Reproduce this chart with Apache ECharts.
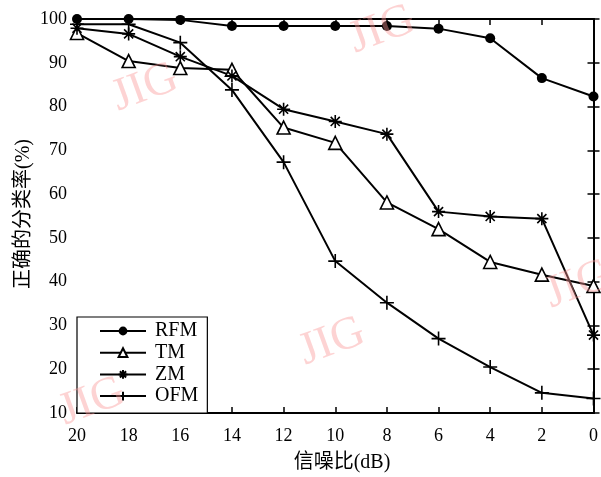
<!DOCTYPE html>
<html>
<head>
<meta charset="utf-8">
<script src="https://cdn.jsdelivr.net/npm/echarts@6/dist/echarts.min.js"></script>
<style>html,body{margin:0;padding:0;background:#fff}#c{width:601px;height:477px}</style>
</head>
<body>
<div id="c"></div>
<script>
const snr = [20, 18, 16, 14, 12, 10, 8, 6, 4, 2, 0];
const RFM = [100, 100, 99.8, 98.4, 98.4, 98.4, 98.4, 97.8, 95.6, 86.5, 82.3];
const TM  = [96.8, 90.4, 88.8, 88.4, 75.2, 71.7, 58.1, 52.0, 44.5, 41.6, 39.0];
const ZM  = [97.9, 96.6, 91.4, 87.0, 79.4, 76.6, 73.7, 56.0, 54.9, 54.4, 27.8];
const OFM = [98.8, 98.8, 94.6, 83.8, 67.3, 44.7, 35.2, 27.0, 20.5, 14.6, 13.3];
const seriesNames = ['RFM', 'TM', 'ZM', 'OFM'];
const xTitle = '信噪比(dB)';
const yTitle = '正确的分类率(%)';

const FONT = '"Liberation Serif", "Times New Roman", "Noto Sans CJK SC", serif';
const ASTER = 'path://M0,-1L0,1M-1,0L1,0M-0.7,-0.7L0.7,0.7M-0.7,0.7L0.7,-0.7';
const PLUS = 'path://M0,-1L0,1M-1,0L1,0';

function pairs(v) { return snr.map((x, i) => [x, v[i]]); }

function mk(name, data, symbol, size, fill) {
  return {
    name, type: 'line', data: pairs(data), symbol, symbolSize: size,
    showAllSymbol: true, clip: false,
    lineStyle: { color: '#000', width: 2 },
    itemStyle: { color: fill, borderColor: '#000', borderWidth: fill === '#000' ? 0 : 1.6 },
    emphasis: { disabled: true }
  };
}

const chart = echarts.init(document.getElementById('c'));
const axisCommon = {
  type: 'value',
  axisLine: { show: true, lineStyle: { color: '#000', width: 1.8 } },
  axisTick: { show: true, inside: true, length: 6, lineStyle: { color: '#000', width: 1.5 } },
  splitLine: { show: false }
};
const wm = (x, y) => ({
  type: 'text', x, y, rotation: 0.35, z: 100,
  style: { text: 'JIG', fill: 'rgba(250,150,150,0.42)', font: '46px ' + FONT, align: 'center', verticalAlign: 'middle' }
});
chart.setOption({
  animation: false,
  backgroundColor: '#fff',
  grid: { left: 77, right: 4, top: 19, bottom: 64, containLabel: false },
  xAxis: [
    Object.assign({}, axisCommon, { min: 0, max: 20, interval: 2, inverse: true, position: 'bottom',
      axisLabel: { color: '#000', fontSize: 18, fontFamily: FONT, margin: 14 } }),
    Object.assign({}, axisCommon, { min: 0, max: 20, interval: 2, inverse: true, position: 'top',
      axisLabel: { show: false } })
  ],
  yAxis: [
    Object.assign({}, axisCommon, { min: 10, max: 100, interval: 10, position: 'left',
      axisLabel: { color: '#000', fontSize: 18, fontFamily: FONT, margin: 10 } }),
    Object.assign({}, axisCommon, { min: 10, max: 100, interval: 10, position: 'right',
      axisLabel: { show: false } })
  ],
  legend: {
    data: seriesNames, orient: 'vertical', left: 77, top: 317,
    padding: [4, 9, 7, 22], itemGap: 1.7, itemWidth: 46, itemHeight: 11,
    borderColor: '#000', borderWidth: 1.2, backgroundColor: '#fff',
    textStyle: { color: '#000', fontSize: 20, fontFamily: FONT, padding: [0, 0, 0, 4] },
    selectedMode: false
  },
  series: [
    mk('RFM', RFM, 'circle', 10, '#000'),
    mk('TM', TM, 'triangle', 13, '#fff'),
    mk('ZM', ZM, ASTER, 13, 'none'),
    mk('OFM', OFM, PLUS, 14, 'none')
  ],
  graphic: [
    { type: 'text', x: 342, y: 463, style: { text: xTitle, fill: '#000', font: '20px ' + FONT, align: 'center', verticalAlign: 'middle' } },
    { type: 'text', x: 24, y: 214, rotation: Math.PI / 2, style: { text: yTitle, fill: '#000', font: '20px ' + FONT, align: 'center', verticalAlign: 'middle' } },
    wm(145, 88), wm(382, 30), wm(332, 342), wm(578, 285), wm(92, 402)
  ]
});
</script>
</body>
</html>
